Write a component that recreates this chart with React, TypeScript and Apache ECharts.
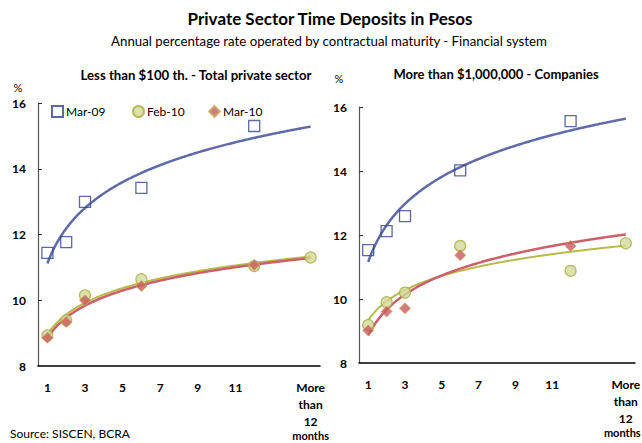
import React, { useEffect, useRef } from "react";
import * as echarts from "echarts";

const categories = ["1", "2", "3", "4", "5", "6", "7", "8", "9", "10", "11", "12", "13", "14", "More than 12 months"];
const hiddenLabels = ["13", "14"];
const terms = [1, 2, 3, 6, 12, 15];

const mar09Left = [11.44, 11.77, 12.99, 13.42, 15.3, null];
const feb10Left = [8.93, 9.39, 10.15, 10.64, 11.04, 11.3];
const mar10Left = [8.86, 9.34, 10.0, 10.43, 11.07, null];

const mar09Right = [11.53, 12.12, 12.59, 14.02, 15.56, null];
const feb10Right = [9.19, 9.9, 10.2, 11.66, 10.88, 11.74];
const mar10Right = [9.02, 9.61, 9.71, 11.37, 11.66, null];

const yTicks = [8, 10, 12, 14, 16];

const FONT = "Lato, 'Open Sans', sans-serif";
const BLUE_M = "#34418a";
const BLUE_L = "#5f6ba8";
const OLIVE_FILL = "#d5d99a";
const OLIVE_B = "#a9ab3e";
const OLIVE_L = "#b7bb4c";
const RED_FILL = "#c85a5e";
const RED_L = "#cc5f67";

function logFit(vals: (number | null)[]) {
  const xs: number[] = [];
  const ys: number[] = [];
  vals.forEach((v, i) => {
    if (v != null) {
      xs.push(Math.log(terms[i]));
      ys.push(v);
    }
  });
  const n = xs.length;
  const mx = xs.reduce((a, b) => a + b, 0) / n;
  const my = ys.reduce((a, b) => a + b, 0) / n;
  let sxx = 0, sxy = 0;
  for (let i = 0; i < n; i++) {
    sxx += (xs[i] - mx) ** 2;
    sxy += (xs[i] - mx) * (ys[i] - my);
  }
  const b = sxy / sxx;
  const a = my - b * mx;
  const pts: number[][] = [];
  const last = categories.length;
  for (let k = 0; k <= (last - 1) * 20; k++) {
    const x = 1 + k / 20;
    pts.push([x, a + b * Math.log(x)]);
  }
  return pts;
}

function pointData(vals: (number | null)[]) {
  return vals.map((v, i) => [terms[i] - 1, v]).filter((p) => p[1] != null);
}

export default function App() {
  const ref = useRef<HTMLDivElement>(null);
  useEffect(() => {
    if (!ref.current) return;
    const chart = echarts.init(ref.current, null, { renderer: "svg" });

    const grids = [
      { left: 38, top: 103, width: 282, height: 263, outerBoundsMode: "none", containLabel: false },
      { left: 359, top: 107, width: 276, height: 256, outerBoundsMode: "none", containLabel: false },
    ];

    const xCat = (gi: number) => ({
      type: "category",
      gridIndex: gi,
      data: categories,
      boundaryGap: true,
      axisLine: { lineStyle: { color: "#000", width: 1.5 } },
      axisTick: { inside: true, length: 4, interval: 1, lineStyle: { color: "#000" } },
      axisLabel: {
        interval: 1,
        margin: 13,
        fontFamily: FONT,
        fontWeight: "bold",
        fontSize: 12,
        color: "#000",
        lineHeight: 17,
        verticalAlign: "top",
        formatter: (v: string) => {
          if (hiddenLabels.includes(v)) return "";
          if (v === categories[categories.length - 1]) {
            return "{a|More}\n{a|than}\n{a|12}\n{b|months}";
          }
          return v;
        },
        rich: {
          a: { fontFamily: FONT, fontWeight: "bold", fontSize: 12, lineHeight: 17, color: "#000" },
          b: {
            fontFamily: FONT, fontWeight: "bold", fontSize: 11, lineHeight: 11, color: "#000",
            padding: gi === 1 ? [0, 7, 0, 0] : 0,
          },
        },
      },
      splitLine: { show: false },
    });
    const xVal = (gi: number) => ({
      type: "value",
      gridIndex: gi,
      min: 0.5,
      max: categories.length + 0.5,
      show: false,
    });
    const yAx = (gi: number) => ({
      type: "value",
      gridIndex: gi,
      min: yTicks[0],
      max: yTicks[yTicks.length - 1],
      interval: 2,
      axisLine: { show: true, lineStyle: { color: "#555", width: 1.2 } },
      axisTick: { show: true, inside: true, length: 4, lineStyle: { color: "#333" } },
      axisLabel: { margin: 12, fontFamily: FONT, fontWeight: "bold", fontSize: 12, color: "#000" },
      splitLine: { show: false },
    });

    const panel = (gi: number, m09: any[], f10: any[], m10: any[]) => {
      const xc = gi * 2;
      const xv = gi * 2 + 1;
      return [
        {
          name: "Mar-09 trend", type: "line", xAxisIndex: xv, yAxisIndex: gi, data: logFit(m09),
          showSymbol: false, lineStyle: { color: BLUE_L, width: 2.5 }, z: 3, silent: true,
        },
        {
          name: "Feb-10 trend", type: "line", xAxisIndex: xv, yAxisIndex: gi, data: logFit(f10),
          showSymbol: false, lineStyle: { color: OLIVE_L, width: 2 }, z: 3, silent: true,
        },
        {
          name: "Mar-10 trend", type: "line", xAxisIndex: xv, yAxisIndex: gi, data: logFit(m10),
          showSymbol: false, lineStyle: { color: RED_L, width: 2.5 }, z: 4, silent: true,
        },
        {
          name: "Mar-09", type: "scatter", xAxisIndex: xc, yAxisIndex: gi, data: pointData(m09),
          symbol: "rect", symbolSize: 11,
          itemStyle: { color: "rgba(255,255,255,0)", borderColor: BLUE_M, borderWidth: 1.3 }, z: 5,
        },
        {
          name: "Feb-10", type: "scatter", xAxisIndex: xc, yAxisIndex: gi, data: pointData(f10),
          symbol: "circle", symbolSize: 11,
          itemStyle: { color: OLIVE_FILL, borderColor: OLIVE_B, borderWidth: 1.2 }, z: 6,
        },
        {
          name: "Mar-10", type: "scatter", xAxisIndex: xc, yAxisIndex: gi, data: pointData(m10),
          symbol: "diamond", symbolSize: 11,
          itemStyle: { color: RED_FILL, borderColor: "#c9a95a", borderWidth: 1 }, z: 7,
        },
      ];
    };

    const legendItem = (name: string, left: number, icon: string) => ({
      data: [{ name, icon }],
      left,
      top: 105,
      itemWidth: 11,
      itemHeight: 11,
      itemGap: 4,
      textStyle: { fontFamily: FONT, fontSize: 12, color: "#000", padding: [0, 0, 0, -2] },
      padding: 0,
      selectedMode: false,
    });

    const txt = (text: string, x: number, y: number, size: number, weight: string, align = "center") => ({
      type: "text",
      x,
      y,
      style: {
        text,
        fontFamily: FONT,
        fontSize: size,
        fontWeight: weight,
        fill: "#000",
        textAlign: align,
        textVerticalAlign: "middle",
      },
    });

    chart.setOption({
      animation: false,
      backgroundColor: "#fff",
      grid: grids,
      xAxis: [xCat(0), xVal(0), xCat(1), xVal(1)],
      yAxis: [yAx(0), yAx(1)],
      legend: [
        legendItem("Mar-09", 51, "rect"),
        legendItem("Feb-10", 132, "circle"),
        legendItem("Mar-10", 208, "diamond"),
      ],
      series: [...panel(0, mar09Left, feb10Left, mar10Left), ...panel(1, mar09Right, feb10Right, mar10Right)],
      graphic: [
        txt("Private Sector Time Deposits in Pesos", 330, 18, 17, "bold"),
        txt("Annual percentage rate operated by contractual maturity - Financial system", 329, 41, 13.25, "normal"),
        txt("Less than $100 th. - Total private sector", 196, 75, 13.2, "bold"),
        txt("More than $1,000,000 - Companies", 496, 74, 13, "bold"),
        txt("%", 18, 87, 11, "normal"),
        txt("%", 339, 78, 11, "normal"),
        txt("Source: SISCEN, BCRA", 10, 433, 12, "normal", "left"),
      ],
    });
    return () => chart.dispose();
  }, []);
  return <div ref={ref} style={{ width: 642, height: 443, position: "absolute", left: 0, top: 0 }} />;
}
